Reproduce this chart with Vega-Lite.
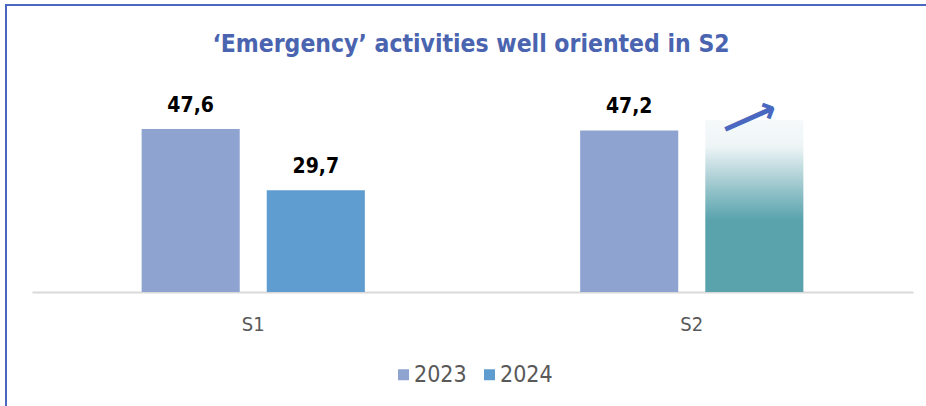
{
  "$schema": "https://vega.github.io/schema/vega-lite/v6.json",
  "width": 930,
  "height": 410,
  "autosize": {"type": "none"},
  "padding": {"left": 6, "top": 5, "right": 0, "bottom": 0},
  "background": "white",
  "config": {
    "view": {"stroke": "#4a68bf", "strokeWidth": 2},
    "font": "DejaVu Sans Condensed",
    "locale": {"number": {"decimal": ",", "thousands": ".", "grouping": [3], "currency": ["", " €"]}}
  },
  "title": {
    "text": "‘Emergency’ activities well oriented in S2",
    "anchor": "middle",
    "frame": "group",
    "offset": -52,
    "fontSize": 24.5,
    "font": "DejaVu Sans Condensed",
    "fontWeight": "bold",
    "color": "#4a64b0"
  },
  "data": {
    "values": [
      {"half": "S1", "year": "2023", "value": 47.6, "projected": false},
      {"half": "S1", "year": "2024", "value": 29.7, "projected": false},
      {"half": "S2", "year": "2023", "value": 47.2, "projected": false},
      {"half": "S2", "year": "2024", "value": 50.2, "projected": true}
    ]
  },
  "encoding": {
    "x": {
      "field": "half",
      "type": "nominal",
      "scale": {"range": [26, 907], "paddingInner": 0.491, "paddingOuter": 0.25},
      "axis": {
        "orient": "bottom",
        "offset": -123,
        "title": null,
        "ticks": false,
        "grid": false,
        "domainColor": "#d9d9d9",
        "domainWidth": 2,
        "labelFontSize": 20,
        "labelColor": "#595959",
        "labelPadding": 22,
        "labelAngle": 0,
        "labelFont": "DejaVu Sans Condensed"
      }
    },
    "xOffset": {"field": "year", "type": "nominal", "scale": {"paddingInner": 0.216, "paddingOuter": 0}},
    "y": {
      "field": "value",
      "type": "quantitative",
      "scale": {"domain": [0, 60], "range": [287, 81.6], "nice": false, "zero": true},
      "axis": null
    }
  },
  "layer": [
    {
      "transform": [{"filter": "!datum.projected"}],
      "mark": {"type": "bar"},
      "encoding": {
        "color": {
          "field": "year",
          "type": "nominal",
          "scale": {"domain": ["2023", "2024"], "range": ["#8fa3d0", "#5f9dd1"]},
          "legend": {
            "orient": "none",
            "legendX": 386,
            "legendY": 358,
            "direction": "horizontal",
            "title": null,
            "symbolType": "square",
            "symbolSize": 121,
            "symbolStrokeWidth": 0,
            "labelFontSize": 23,
            "labelColor": "#595959",
            "labelFont": "DejaVu Sans Condensed",
            "columnPadding": 11,
            "labelOffset": -1
          }
        }
      }
    },
    {
      "transform": [{"filter": "datum.projected"}],
      "mark": {
        "type": "bar",
        "color": {
          "gradient": "linear",
          "x1": 0, "y1": 0, "x2": 0, "y2": 1,
          "stops": [
            {"offset": 0, "color": "#f5f9fa"},
            {"offset": 0.15, "color": "#eff5f7"},
            {"offset": 0.41, "color": "#93c2c9"},
            {"offset": 0.58, "color": "#5aa3ad"},
            {"offset": 1, "color": "#5aa3ad"}
          ]
        }
      }
    },
    {
      "transform": [{"filter": "!datum.projected"}],
      "mark": {"type": "text", "baseline": "bottom", "dy": -13, "fontSize": 21, "fontWeight": "bold", "color": "#000000", "font": "DejaVu Sans Condensed"},
      "encoding": {"text": {"field": "value", "type": "quantitative", "format": ".1f"}}
    },
    {
      "transform": [{"filter": "datum.projected"}],
      "mark": {"type": "text", "text": "⟶", "baseline": "middle", "align": "center", "dx": -4, "dy": -3, "angle": -24, "fontSize": 40, "fontWeight": "bold", "color": "#4a68bf", "font": "DejaVu Sans"}
    }
  ]
}
